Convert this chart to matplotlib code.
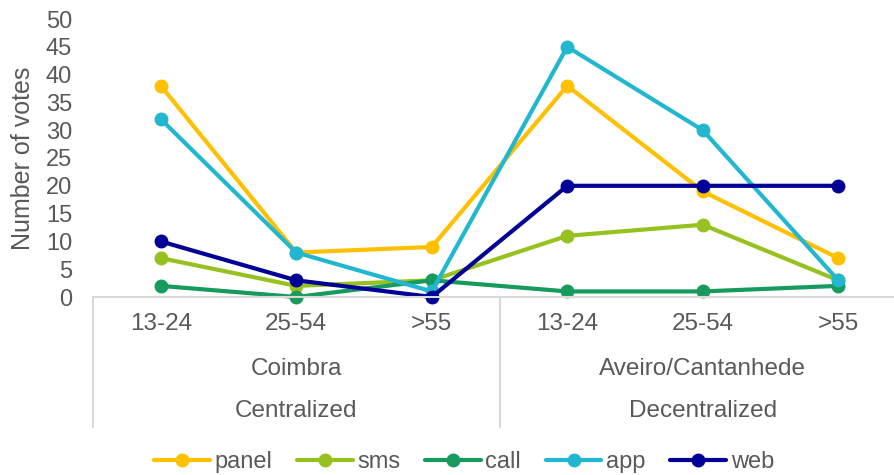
import matplotlib.pyplot as plt
from matplotlib.transforms import blended_transform_factory

plt.rcParams['font.family'] = ['Liberation Sans', 'DejaVu Sans']

age_groups = ['13-24', '25-54', '>55', '13-24', '25-54', '>55']
cities = ['Coimbra', 'Aveiro/Cantanhede']
modes = ['Centralized', 'Decentralized']

panel = [38, 8, 9, 38, 19, 7]
sms = [7, 2, 3, 11, 13, 3]
call = [2, 0, 3, 1, 1, 2]
app = [32, 8, 1, 45, 30, 3]
web = [10, 3, 0, 20, 20, 20]

series = [
    ('panel', panel, '#FFC000'),
    ('sms', sms, '#96C11F'),
    ('call', call, '#179A5E'),
    ('app', app, '#22B7D0'),
    ('web', web, '#000096'),
]

W, H = 894, 475
text_col = '#595959'
fig = plt.figure(figsize=(W / 100, H / 100), dpi=100)
ax = fig.add_axes([93 / W, 178 / H, 813 / W, 278 / H])

x = list(range(len(age_groups)))
for name, vals, col in series:
    ax.plot(x, vals, color=col, lw=3, marker='o', ms=9, label=name,
            solid_capstyle='round', clip_on=False)

ax.set_xlim(-0.5, 5.5)
ax.set_ylim(0, 50)
ax.set_yticks(range(0, 51, 5))
ax.tick_params(axis='y', length=0, pad=15, labelsize=17, labelcolor=text_col)
ax.set_xticks([])
for s in ['top', 'right', 'left']:
    ax.spines[s].set_visible(False)
ax.spines['bottom'].set_color('#D9D9D9')
ax.spines['bottom'].set_linewidth(1.5)


def fy(py):
    return 1 - py / H


fig.text(23 / W, fy(158), 'Number of votes', rotation=90, ha='center',
         va='center', fontsize=18, color=text_col)

# multi-level category labels below the axis
tr = blended_transform_factory(ax.transData, fig.transFigure)
for i, lab in enumerate(age_groups):
    ax.text(i, fy(324), lab, transform=tr, ha='center', va='center',
            fontsize=17.5, color=text_col)
for j, lab in enumerate(cities):
    ax.text(1 + 3 * j, fy(369), lab, transform=tr, ha='center', va='center',
            fontsize=17.5, color=text_col)
    ax.text(1 + 3 * j, fy(411), modes[j], transform=tr, ha='center', va='center',
            fontsize=17.5, color=text_col)
for xs in [-0.5, 2.5]:
    ax.plot([xs, xs], [fy(297), fy(427)], transform=tr, color='#D9D9D9',
            lw=1.5, clip_on=False)

leg = fig.legend(loc='center', bbox_to_anchor=(464 / W, fy(462)), ncol=5,
                 frameon=False, fontsize=17, handlelength=2.35,
                 handletextpad=0.2, columnspacing=1.05)
for t in leg.get_texts():
    t.set_color(text_col)

fig.savefig('out.png', dpi=100)
